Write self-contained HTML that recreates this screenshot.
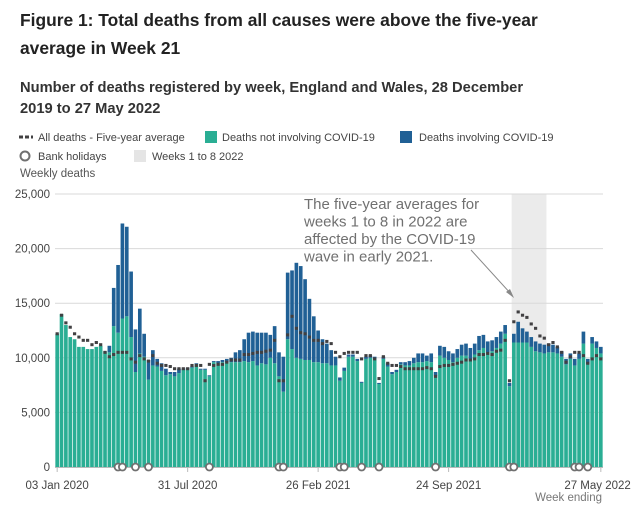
<!DOCTYPE html>
<html><head><meta charset="utf-8"><style>
body{margin:0;background:#fff;font-family:"Liberation Sans",sans-serif;}
svg text{font-family:"Liberation Sans",sans-serif;}
</style></head><body>
<svg width="639" height="514" viewBox="0 0 639 514" xmlns="http://www.w3.org/2000/svg">
<text x="20" y="26" font-size="17.4" font-weight="bold" fill="#222">Figure 1: Total deaths from all causes were above the five-year</text>
<text x="20" y="54" font-size="17.4" font-weight="bold" fill="#222">average in Week 21</text>
<text x="20" y="92" font-size="14.7" font-weight="bold" fill="#333">Number of deaths registered by week, England and Wales, 28 December</text>
<text x="20" y="113" font-size="14.7" font-weight="bold" fill="#333">2019 to 27 May 2022</text>
<g font-size="11" fill="#444">
 <g><line x1="19" y1="137" x2="33" y2="137" stroke="#414042" stroke-width="3" stroke-dasharray="4,2"/><text x="38" y="141">All deaths - Five-year average</text></g>
 <g><rect x="205" y="131" width="12" height="12" fill="#2aae94"/><text x="222" y="141">Deaths not involving COVID-19</text></g>
 <g><rect x="400" y="131" width="12" height="12" fill="#206095"/><text x="419" y="141">Deaths involving COVID-19</text></g>
 <g><circle cx="25" cy="156" r="4.5" fill="#fff" stroke="#707070" stroke-width="2"/><text x="38" y="160">Bank holidays</text></g>
 <g><rect x="134" y="150" width="12" height="12" fill="#e5e5e5"/><text x="152" y="160">Weeks 1 to 8 2022</text></g>
</g>
<text x="20" y="177" font-size="11.5" fill="#555">Weekly deaths</text>
<g id="plot"></g>
<text x="304" y="209" font-size="15" fill="#707070"><tspan x="304">The five-year averages for</tspan><tspan x="304" dy="17.5">weeks 1 to 8 in 2022 are</tspan><tspan x="304" dy="17.5">affected by the COVID-19</tspan><tspan x="304" dy="17.5">wave in early 2021.</tspan></text>
<line x1="471" y1="250" x2="512" y2="295" stroke="#888" stroke-width="1"/>
<path d="M514,298 L506,292 L510,289 Z" fill="#888"/>
<text x="602" y="501" font-size="11.5" fill="#777" text-anchor="end">Week ending</text>
</svg>
<script>
const allDeaths=[12.2,14.0,13.0,11.9,11.7,11.0,11.0,10.8,10.8,11.0,11.1,10.6,11.1,16.4,18.5,22.3,22.0,17.9,12.6,14.5,12.2,9.8,10.7,9.9,9.5,9.0,8.7,8.7,9.0,9.0,9.1,9.2,9.5,9.0,9.0,8.4,9.7,9.7,9.8,9.9,10.0,10.5,10.7,11.7,12.3,12.4,12.3,12.3,12.3,12.1,12.9,10.5,10.1,
17.8,18.0,18.7,18.4,17.2,15.4,13.8,12.5,11.7,11.3,10.7,10.1,8.2,9.1,10.3,10.3,9.9,7.8,10.1,10.2,10.1,7.7,10.1,9.5,8.7,8.9,9.6,9.6,9.7,10.0,10.4,10.4,10.2,10.4,8.7,11.1,11.0,10.6,10.4,10.8,11.2,11.3,10.9,11.3,12.0,12.1,11.5,11.6,11.9,12.4,13.0,7.7,
12.2,13.3,12.7,12.4,11.9,11.5,11.3,11.2,11.3,11.2,11.0,10.6,9.9,10.4,9.9,10.4,12.4,9.9,11.9,11.5,11.0];
const nonCovid=[12.2,14.0,13.0,11.9,11.7,11.0,11.0,10.8,10.8,11.0,11.1,10.6,10.5,12.9,12.3,13.6,13.8,11.9,8.7,10.4,10.1,8.0,9.3,9.2,8.8,8.4,8.5,8.3,8.6,8.9,9.0,9.1,9.4,8.9,8.9,8.3,9.6,9.5,9.6,9.6,9.6,9.6,9.6,9.7,9.6,9.7,9.3,9.5,9.4,10.0,9.5,8.3,6.9,
11.7,10.8,10.0,9.9,9.8,9.8,9.6,9.6,9.5,9.5,9.3,9.3,7.9,8.8,10.1,10.1,9.7,7.7,9.9,10.0,9.9,7.6,9.9,9.2,8.5,8.7,9.4,9.3,9.3,9.5,9.6,9.6,9.7,9.6,8.3,10.2,10.0,9.8,9.6,10.0,10.2,10.2,9.9,10.3,10.7,10.9,10.5,10.6,10.9,11.3,12.2,7.4,
11.4,11.4,11.4,11.4,11.0,10.6,10.5,10.4,10.5,10.5,10.4,10.1,9.4,9.9,9.3,9.9,11.3,9.4,11.3,10.9,10.4];
const fiveYearAvg=[12.2,13.9,13.2,12.8,12.2,11.9,11.6,11.6,11.2,11.4,11.2,10.5,10.1,10.3,10.5,10.5,10.5,9.9,9.6,10.2,9.9,9.7,10.2,9.5,9.3,9.3,9.2,9.0,9.0,9.0,9.0,9.3,9.3,9.3,7.9,9.4,9.3,9.4,9.4,9.6,9.8,9.8,9.8,10.3,10.3,10.4,10.5,10.5,10.6,10.7,11.6,7.9,7.9,
12.1,13.8,12.7,12.3,12.2,11.9,11.6,11.6,11.3,11.5,11.3,10.5,10.1,10.4,10.5,10.5,10.5,9.9,10.2,10.2,9.9,8.1,10.1,9.5,9.3,9.3,9.2,9.0,9.0,9.0,9.0,9.0,9.1,9.0,8.3,9.2,9.3,9.3,9.4,9.5,9.6,9.8,9.8,9.9,10.3,10.3,10.4,10.3,10.6,10.7,11.6,7.9,
13.3,14.2,13.9,13.7,13.1,12.7,12.0,11.8,11.2,11.4,11.0,10.5,9.6,10.1,10.5,10.5,10.2,9.5,9.9,10.2,9.9];
const bankHolidayWeeks=[15,16,19,22,36,52,53,66,67,71,75,88,105,106,120,121,123];
const shadedWeeks=[106,113];
const yTicks=[0,5000,10000,15000,20000,25000];
const yTickLabels=["0","5,000","10,000","15,000","20,000","25,000"];
const xTickWeeks=[1,31,61,91,126];
const xTickLabels=["03 Jan 2020","31 Jul 2020","26 Feb 2021","24 Sep 2021","27 May 2022"];

const NS="http://www.w3.org/2000/svg";
const plot=document.getElementById('plot');
const x0=55,x1=603,y0=467,y1=194,N=allDeaths.length,step=(x1-x0)/N;
const y=v=>y0-(v/25000)*(y0-y1);
const xc=w=>x0+(w-0.5)*step;
function mk(t,a,p){const e=document.createElementNS(NS,t);for(const k in a)e.setAttribute(k,a[k]);(p||plot).appendChild(e);return e;}
let sh=mk('rect',{x:xc(shadedWeeks[0])-step/2,y:y1,width:(shadedWeeks[1]-shadedWeeks[0]+1)*step,height:y0-y1,fill:'#ebebeb'});


yTicks.forEach((t,i)=>{
 const g=mk('line',{x1:x0,x2:x1,y1:y(t),y2:y(t),stroke:'#d9d9d9','stroke-width':1});
 
 
 const l=mk('text',{x:50,y:y(t)+4,'font-size':11.5,fill:'#444','text-anchor':'end'});
 l.textContent=yTickLabels[i];
 
 
});
for(let i=0;i<N;i++){
 const w=i+1,bw=step-0.7,bx=xc(w)-bw/2;
 const g=mk('rect',{x:bx,y:y(nonCovid[i]*1000),width:bw,height:y0-y(nonCovid[i]*1000),fill:'#2aae94'});
 
 
 const c=allDeaths[i]-nonCovid[i];
 if(c>0){
  const b=mk('rect',{x:bx,y:y(allDeaths[i]*1000),width:bw,height:y(nonCovid[i]*1000)-y(allDeaths[i]*1000),fill:'#206095'});
  
  
 }
}
for(let i=0;i<N;i++){
 const d=mk('rect',{x:xc(i+1)-1.6,y:y(fiveYearAvg[i]*1000)-1.5,width:3.2,height:3,fill:'#414042'});
 
 
}
const ax=mk('line',{x1:x0,x2:x1,y1:y0+0.5,y2:y0+0.5,stroke:'#bbb'});


xTickWeeks.forEach((w,i)=>{
 const tx=mk('line',{x1:xc(w),x2:xc(w),y1:y0,y2:y0+5,stroke:'#bbb'});
 
 
 const last=i===xTickWeeks.length-1;
 const l=mk('text',{x:last?xc(w)+30:xc(w),y:489,'font-size':11.5,fill:'#444','text-anchor':last?'end':'middle'});
 l.textContent=xTickLabels[i];
 
 
});
bankHolidayWeeks.forEach(w=>{
 const c=mk('circle',{cx:xc(w),cy:y0,r:3.5,fill:'#fff',stroke:'#707070','stroke-width':1.8});
 
 
});
</script>
</body></html>
